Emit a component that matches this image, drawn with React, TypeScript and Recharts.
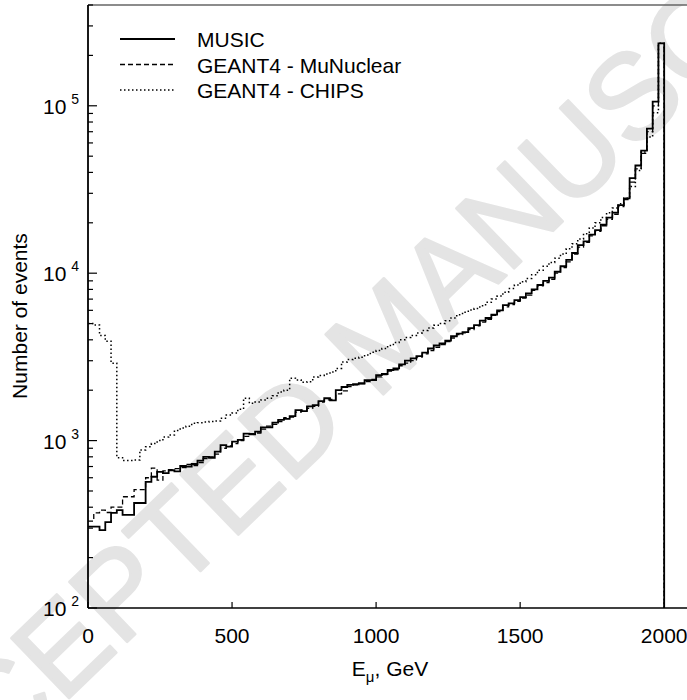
import React from 'react';
import { LineChart, Line, XAxis, YAxis, ReferenceLine } from 'recharts';

const BIN_WIDTH = 20; // GeV
const Y_MIN = 100;
const Y_MAX = 400000;

const MUSIC = [
  306, 306, 292, 326, 370, 384, 360, 360, 424, 424,
  567, 608, 651, 640, 665, 655, 705, 700, 725, 760,
  800, 790, 860, 940, 920, 985, 1010, 1100, 1090, 1130,
  1200, 1200, 1280, 1330, 1350, 1400, 1520, 1500, 1600, 1630,
  1720, 1790, 1740, 2000, 2090, 2150, 2170, 2200, 2300, 2300,
  2460, 2500, 2640, 2700, 2850, 3000, 3100, 3200, 3350, 3550,
  3700, 3810, 3950, 4200, 4360, 4450, 4700, 4900, 5210, 5400,
  5650, 6000, 6450, 6600, 6900, 7200, 7570, 8000, 8500, 9000,
  9400, 10200, 11000, 12000, 13200, 14700, 15500, 17000, 18100, 19500,
  21500, 23000, 25500, 28000, 37000, 44000, 54000, 73000, 106000, 236000,
];

const MUNUCLEAR = [
  330, 370, 384, 372, 400, 400, 462, 462, 510, 510,
  600, 685, 580, 660, 670, 680, 690, 720, 710, 740,
  780, 800, 830, 900, 930, 960, 1000, 1060, 1100, 1110,
  1170, 1220, 1250, 1300, 1370, 1380, 1480, 1520, 1560, 1600,
  1700, 1750, 1760, 1900, 1980, 2100, 2150, 2180, 2250, 2320,
  2400, 2480, 2600, 2650, 2800, 2900, 3000, 3150, 3300, 3450,
  3600, 3750, 3900, 4100, 4300, 4400, 4600, 4850, 5100, 5300,
  5600, 5900, 6300, 6500, 6800, 7100, 7400, 7900, 8400, 8800,
  9200, 10000, 10800, 11700, 13000, 14300, 15300, 16700, 17800, 19200,
  21000, 22500, 25000, 27500, 35000, 42000, 52000, 70000, 100000, 236000,
];

const CHIPS = [
  5000, 4900, 4250, 3920, 2900, 790, 760, 760, 765, 880,
  920, 960, 1000, 1050, 1080, 1150, 1190, 1220, 1270, 1280,
  1290, 1300, 1310, 1360, 1420, 1460, 1540, 1790, 1670, 1700,
  1750, 1790, 1850, 1950, 2000, 2360, 2300, 2230, 2250, 2400,
  2450, 2500, 2570, 2700, 2950, 3050, 3100, 3150, 3250, 3370,
  3450, 3550, 3700, 3850, 4000, 4130, 4250, 4400, 4550, 4700,
  4880, 5000, 5200, 5400, 5650, 5850, 6020, 6150, 6400, 6700,
  7000, 7300, 7700, 8100, 8500, 8900, 9300, 9800, 10400, 11000,
  11600, 12300, 13000, 14000, 15000, 16000, 17200, 18600, 20000, 21500,
  23000, 24500, 26000, 28000, 33000, 41000, 53000, 65000, 91000, 236000,
];

const SERIES_NAMES = ['MUSIC', 'GEANT4 - MuNuclear', 'GEANT4 - CHIPS'];
const X_TICKS = [0, 500, 1000, 1500, 2000];
const Y_TICKS = [
  100, 200, 300, 400, 500, 600, 700, 800, 900,
  1000, 2000, 3000, 4000, 5000, 6000, 7000, 8000, 9000,
  10000, 20000, 30000, 40000, 50000, 60000, 70000, 80000, 90000,
  100000, 200000, 300000, 400000,
];
const WATERMARK = 'ACCEPTED MANUSCRIPT';

const FONT = '"Liberation Sans", Arial, Helvetica, sans-serif';

const data: any[] = MUSIC.map((m, i) => ({
  e: i * BIN_WIDTH,
  music: m,
  munuc: MUNUCLEAR[i],
  chips: CHIPS[i],
}));
// closing edge of the last bin (histogram drops to the floor)
data.push({ e: MUSIC.length * BIN_WIDTH, music: Y_MIN, munuc: Y_MIN, chips: Y_MIN });

const XTick = (props: any) => {
  const { x, y, payload } = props;
  return (
    <g>
      <line x1={x} x2={x} y1={y} y2={y - 6} stroke="#000" strokeWidth={1.2} />
      <text x={x} y={y + 35} textAnchor="middle" fontFamily={FONT} fontSize={21} fill="#000">
        {payload.value}
      </text>
    </g>
  );
};

const YTick = (props: any) => {
  const { x, y, payload } = props;
  const v = payload.value;
  const exp = Math.log10(v);
  const major = Math.abs(exp - Math.round(exp)) < 1e-6;
  return (
    <g>
      <line x1={x} x2={x + (major ? 9 : 5)} y1={y} y2={y} stroke="#000" strokeWidth={1.2} />
      {major && (
        <text x={x - 45} y={y + 8} fontFamily={FONT} fontSize={21} fill="#000">
          10
          <tspan dx={5} dy={-10} fontSize={14}>{Math.round(exp)}</tspan>
        </text>
      )}
    </g>
  );
};

const LegendBox = () => {
  const rows = [
    { name: SERIES_NAMES[0], dash: undefined, w: 1.8 },
    { name: SERIES_NAMES[1], dash: '5 3', w: 1.3 },
    { name: SERIES_NAMES[2], dash: '1.5 2.5', w: 1.5 },
  ];
  return (
    <svg width={420} height={110} style={{ position: 'absolute', left: 0, top: 0 }}>
      {rows.map((r, i) => {
        const yy = 39 + i * 25.5;
        return (
          <g key={r.name}>
            <line x1={120} x2={175} y1={yy} y2={yy} stroke="#000" strokeWidth={r.w} strokeDasharray={r.dash} />
            <text x={197} y={yy + 8} fontFamily={FONT} fontSize={21} fill="#000">{r.name}</text>
          </g>
        );
      })}
    </svg>
  );
};

export default function App() {
  return (
    <div style={{ position: 'absolute', left: 0, top: 0, width: 687, height: 700, overflow: 'hidden', background: '#fff' }}>
      <svg width={687} height={700} style={{ position: 'absolute', left: 0, top: 0 }}>
        <text
          transform="translate(415,364) rotate(-44)"
          textAnchor="middle"
          fontFamily={FONT}
          fontSize={121}
          fill="#e4e4e4"
          stroke="#e4e4e4"
          strokeWidth={2.5}
          strokeLinejoin="round"
        >
          {WATERMARK}
        </text>
      </svg>
      <div style={{ position: 'absolute', left: 0, top: 0 }}>
        <LineChart width={700} height={700} data={data} margin={{ top: 5, right: 7, bottom: 0, left: 0 }}>
          <XAxis
            dataKey="e"
            type="number"
            domain={[0, 2100]}
            allowDataOverflow
            ticks={X_TICKS}
            interval={0}
            tick={(p: any) => <XTick {...p} />}
            tickLine={false}
            tickSize={0}
            tickMargin={0}
            height={92}
            axisLine={{ stroke: '#000', strokeWidth: 1.5 }}
            label={{
              content: () => (
                <text x={390} y={676} textAnchor="middle" fontFamily={FONT} fontSize={21} fill="#000">
                  E<tspan dy={6} fontSize={15}>μ</tspan><tspan dy={-6}>, GeV</tspan>
                </text>
              ),
            }}
          />
          <YAxis
            type="number"
            scale="log"
            domain={[Y_MIN, Y_MAX]}
            allowDataOverflow
            ticks={Y_TICKS}
            interval={0}
            tick={(p: any) => <YTick {...p} />}
            tickLine={false}
            tickSize={0}
            tickMargin={0}
            width={88}
            axisLine={{ stroke: '#000', strokeWidth: 1.8 }}
            label={{
              content: () => (
                <text
                  transform="translate(27,316) rotate(-90)"
                  textAnchor="middle"
                  fontFamily={FONT}
                  fontSize={21}
                  fill="#000"
                >
                  Number of events
                </text>
              ),
            }}
          />
          <ReferenceLine y={Y_MAX} stroke="#666" strokeWidth={1.5} />
          <Line dataKey="chips" name={SERIES_NAMES[2]} type="stepAfter" stroke="#000" strokeWidth={1.5} strokeDasharray="1.5 2.5" dot={false} isAnimationActive={false} />
          <Line dataKey="munuc" name={SERIES_NAMES[1]} type="stepAfter" stroke="#000" strokeWidth={1.3} strokeDasharray="5 3" dot={false} isAnimationActive={false} />
          <Line dataKey="music" name={SERIES_NAMES[0]} type="stepAfter" stroke="#000" strokeWidth={1.8} dot={false} isAnimationActive={false} />
        </LineChart>
      </div>
      <LegendBox />
    </div>
  );
}
